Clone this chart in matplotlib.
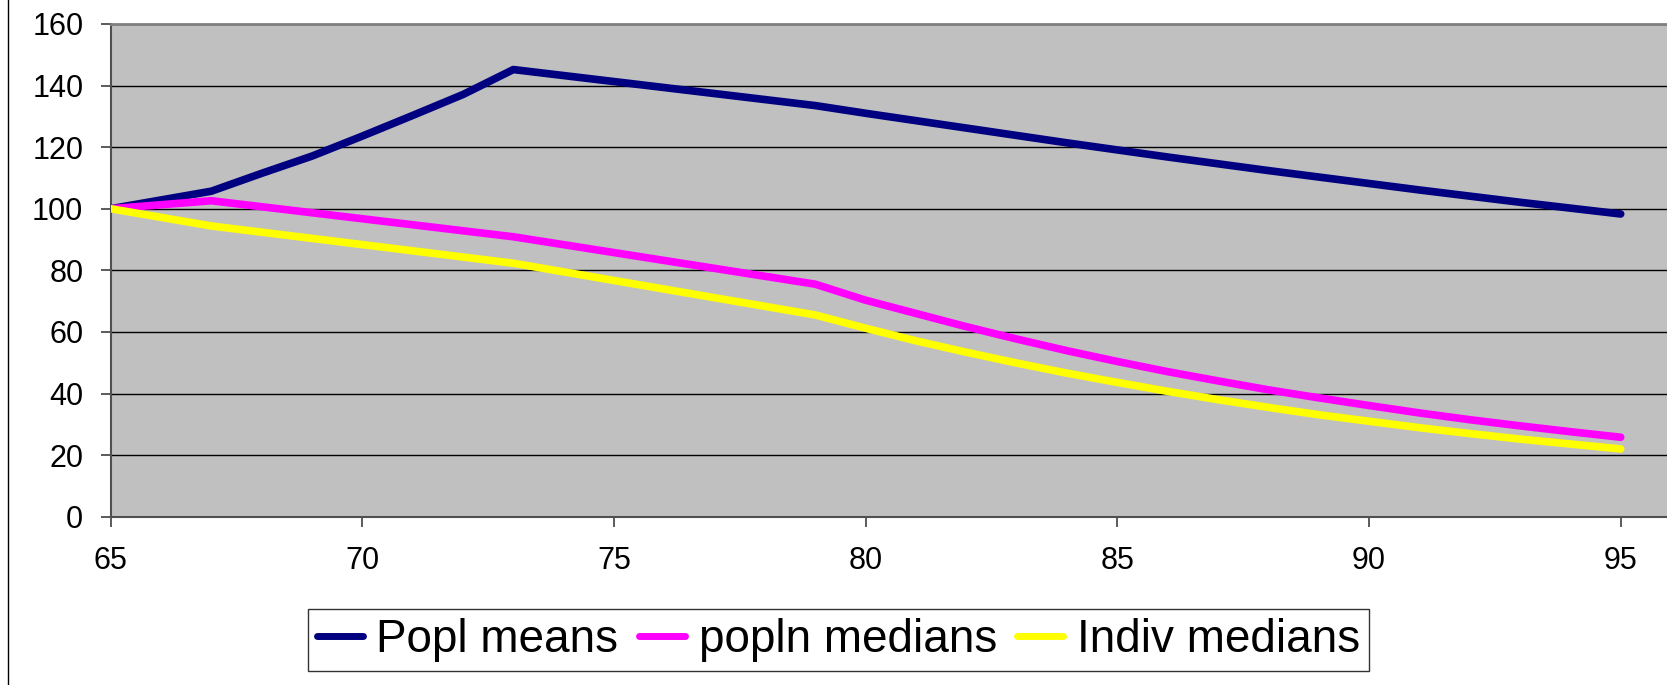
import matplotlib
matplotlib.use("Agg")
import matplotlib.pyplot as plt
from matplotlib.lines import Line2D

plt.rcParams['font.family'] = ['Liberation Sans', 'DejaVu Sans']

# Popl means (age, index)
means_age = [65, 67, 68, 69, 70, 71, 72, 73, 79, 80, 81, 82, 83, 84, 85, 86, 87, 88, 89, 90, 91, 92, 93, 94, 95]
means_val = [100, 105.7, 111.5, 117.1, 123.6, 130.3, 137.1, 145.2, 133.5, 131.0, 128.6, 126.2, 123.8, 121.4,
             119.1, 116.8, 114.6, 112.4, 110.3, 108.2, 106.1, 104.1, 102.1, 100.2, 98.3]

# popln medians and Indiv medians share ages
med_age = [65, 67, 73, 79, 80, 81, 82, 83, 84, 85, 86, 87, 88, 89, 90, 91, 92, 93, 94, 95]
popln_med = [100, 102.6, 90.9, 75.5, 70.3, 66.0, 61.7, 57.7, 53.9, 50.4, 47.1, 44.1, 41.2, 38.6,
             36.1, 33.7, 31.5, 29.5, 27.6, 25.8]
indiv_med = [100, 94.4, 82.3, 65.5, 61.2, 57.1, 53.4, 49.9, 46.6, 43.6, 40.7, 38.0, 35.5, 33.1,
             31.0, 28.9, 27.0, 25.2, 23.6, 22.0]

x_ticks = [65, 70, 75, 80, 85, 90, 95]
y_ticks = [0, 20, 40, 60, 80, 100, 120, 140, 160]

fig = plt.figure(figsize=(16.67, 6.85), dpi=100)
ax = fig.add_axes([0.0664, 0.2457, 1 - 0.0664, 0.7193])
ax.set_facecolor('#C0C0C0')

lw = 5.5
ax.plot(means_age, means_val, color='#000080', lw=lw, solid_capstyle='round',
        solid_joinstyle='round', label='Popl means', zorder=3)
ax.plot(med_age, popln_med, color='#FF00FF', lw=lw, solid_capstyle='round',
        solid_joinstyle='round', label='popln medians', zorder=3)
ax.plot(med_age, indiv_med, color='#FFFF00', lw=lw, solid_capstyle='round',
        solid_joinstyle='round', label='Indiv medians', zorder=3)

ax.set_xlim(65, 95.92)
ax.set_ylim(0, 160)
ax.set_xticks(x_ticks)
ax.set_yticks(y_ticks)
ax.yaxis.grid(True, color='black', lw=1.0)
ax.set_axisbelow(True)

ax.tick_params(axis='both', direction='out', length=7.2, width=1.2, color='#404040',
               labelsize=22, labelcolor='black')
ax.tick_params(axis='y', pad=12.5)
ax.tick_params(axis='x', pad=14)

ax.spines['right'].set_visible(False)
ax.spines['top'].set_color('#808080')
ax.spines['top'].set_linewidth(2)
for s in ['left', 'bottom']:
    ax.spines[s].set_color('#505050')
    ax.spines[s].set_linewidth(1.5)

leg = fig.legend(loc='center', bbox_to_anchor=(0.503, 0.0657), ncol=3, fontsize=33,
                 frameon=True, fancybox=False, shadow=False, handlelength=1.0,
                 handletextpad=0.3, columnspacing=0.45, borderpad=0.2,
                 borderaxespad=0)
leg.get_frame().set_edgecolor('black')
leg.get_frame().set_linewidth(1)
for h in leg.get_lines():
    h.set_linewidth(5)
    h.set_solid_capstyle('round')

# chart-area border on the left
fig.add_artist(Line2D([0.005, 0.005], [0, 1], color='black', lw=1, transform=fig.transFigure))

fig.savefig('out.png', dpi=100, facecolor='white')
